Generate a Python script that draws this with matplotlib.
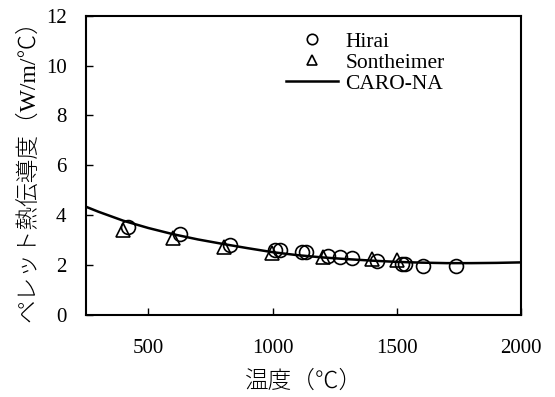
import numpy as np
import matplotlib
matplotlib.use("Agg")
import matplotlib.pyplot as plt

plt.rcParams['font.family'] = ['Liberation Serif', 'Noto Sans CJK JP', 'DejaVu Sans']

# Hirai measurements
hirai_t = [418, 628, 829, 1010, 1030, 1118, 1135, 1223, 1272, 1320, 1419, 1520, 1533, 1607, 1738]
hirai_k = [3.54, 3.24, 2.81, 2.60, 2.60, 2.54, 2.52, 2.38, 2.34, 2.27, 2.17, 2.05, 2.03, 1.98, 1.98]

# Sontheimer measurements
sont_t = [400, 601, 805, 997, 1203, 1399, 1500]
sont_k = [3.41, 3.07, 2.72, 2.50, 2.34, 2.25, 2.20]

# CARO-NA curve
caro_t = [250, 300, 400, 500, 600, 700, 800, 900, 1000, 1100, 1200, 1300,
          1400, 1500, 1600, 1700, 1800, 1900, 2000]
caro_k = [4.34, 4.14, 3.78, 3.49, 3.24, 3.03, 2.85, 2.68, 2.52, 2.40, 2.31, 2.24,
          2.18, 2.13, 2.10, 2.08, 2.08, 2.09, 2.11]

fig = plt.figure(figsize=(5.55, 3.97), dpi=100)
ax = fig.add_axes([0.155, 0.2065, 0.784, 0.754])

ax.plot(hirai_t, hirai_k, 'o', mfc='none', mec='k', ms=10, mew=1.2, label='Hirai')
ax.plot(sont_t, sont_k, '^', mfc='none', mec='k', ms=10, mew=1.2, label='Sontheimer')
ax.plot(caro_t, caro_k, '-', color='k', lw=1.8, label='CARO-NA')

ax.set_xlim(250, 2000)
ax.set_ylim(0, 12)
ax.set_xticks([500, 1000, 1500, 2000])
ax.set_yticks(range(0, 13, 2))
ax.tick_params(direction='in', length=5, width=1, labelsize=15, top=False, right=False)
ax.tick_params(axis='x', pad=17)
ax.tick_params(axis='y', pad=14)
for s in ax.spines.values():
    s.set_linewidth(1.5)

ax.set_xlabel('温度（℃）', fontsize=17, labelpad=9, fontweight='light')
ax.set_ylabel('ペレット熱伝導度（W/m/℃）', fontsize=17, labelpad=5, fontweight='light')

ax.legend(loc='upper left', bbox_to_anchor=(0.415, 1.012), frameon=False, fontsize=15.5,
          markerscale=0.75, handlelength=2.4, handletextpad=0.35, labelspacing=0.05)

fig.savefig('out.png', dpi=100)
